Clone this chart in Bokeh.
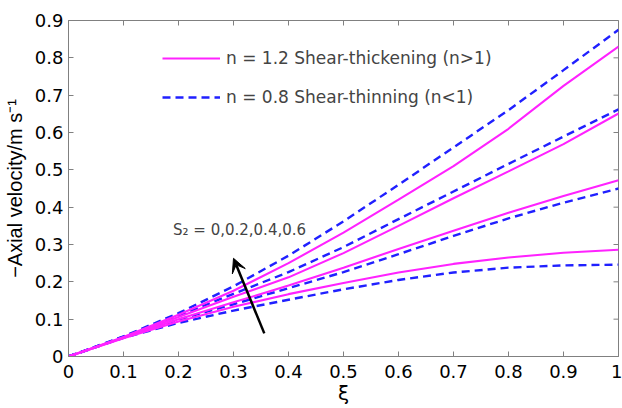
import math
from bokeh.plotting import figure
from bokeh.models import (Range1d, Legend, LegendItem, Arrow, VeeHead,
                          Label, FixedTicker)
from bokeh.embed import file_html
from bokeh.resources import INLINE

# ---- data ----
xi = [0, 0.1, 0.2, 0.3, 0.4, 0.5, 0.6, 0.7, 0.8, 0.9, 1.0]

# n = 1.2 shear-thickening, S2 = 0, 0.2, 0.4, 0.6
thick_s0 = [0, 0.049, 0.094, 0.133, 0.167, 0.197, 0.225, 0.248, 0.265, 0.278, 0.286]
thick_s2 = [0, 0.050, 0.100, 0.145, 0.190, 0.238, 0.288, 0.337, 0.385, 0.430, 0.472]
thick_s4 = [0, 0.051, 0.106, 0.160, 0.212, 0.277, 0.350, 0.424, 0.496, 0.569, 0.651]
thick_s6 = [0, 0.052, 0.112, 0.176, 0.250, 0.332, 0.420, 0.510, 0.610, 0.725, 0.830]

# n = 0.8 shear-thinning, S2 = 0, 0.2, 0.4, 0.6
thin_s0 = [0, 0.050, 0.090, 0.123, 0.152, 0.180, 0.205, 0.225, 0.238, 0.244, 0.246]
thin_s2 = [0, 0.051, 0.099, 0.140, 0.183, 0.226, 0.274, 0.323, 0.370, 0.412, 0.450]
thin_s4 = [0, 0.053, 0.109, 0.168, 0.226, 0.293, 0.368, 0.442, 0.516, 0.589, 0.662]
thin_s6 = [0, 0.054, 0.116, 0.188, 0.270, 0.362, 0.460, 0.560, 0.660, 0.767, 0.875]

x_ticks = [0, 0.1, 0.2, 0.3, 0.4, 0.5, 0.6, 0.7, 0.8, 0.9, 1]
y_ticks = [0, 0.1, 0.2, 0.3, 0.4, 0.5, 0.6, 0.7, 0.8, 0.9]

x_title = "\u03be"
y_title = "\u2212Axial velocity/m s\u207b\u00b9"
legend_thick = "n = 1.2 Shear-thickening (n>1)"
legend_thin = "n = 0.8 Shear-thinning (n<1)"
annot_text = "S\u2082 = 0,0.2,0.4,0.6"
annot_pos = (0.190, 0.338)
arrow_tail = (0.356, 0.062)
arrow_head = (0.300, 0.263)

PINK = "#ff22ff"
BLUE = "#2020ff"
FRAME = "#808080"
FONT = "DejaVu Sans"
LABEL_FONT = "Liberation Sans"

X_MIN, X_MAX = 0, 1
Y_MIN, Y_MAX = 0, 0.9

p = figure(width=622, height=408, output_backend="svg", toolbar_location=None,
           x_range=Range1d(X_MIN, X_MAX), y_range=Range1d(Y_MIN, Y_MAX),
           min_border_left=68, min_border_right=4, min_border_top=20,
           min_border_bottom=52)
p.grid.visible = False
p.outline_line_color = FRAME
p.background_fill_color = "white"

for ax, ticks in ((p.xaxis[0], x_ticks), (p.yaxis[0], y_ticks)):
    ax.ticker = FixedTicker(ticks=ticks)
    ax.axis_line_color = FRAME
    ax.major_tick_line_color = FRAME
    ax.major_tick_in = 5
    ax.major_tick_out = 0
    ax.minor_tick_line_color = None
    ax.major_label_text_font = FONT
    ax.major_label_text_font_size = "18px"
    ax.major_label_text_color = "black"
    ax.major_label_overrides = {0: "0", 1: "1"}
    ax.axis_label_text_color = "black"
    ax.axis_label_text_font_style = "normal"

p.xaxis[0].major_label_standoff = 8
p.yaxis[0].major_label_standoff = 5

p.xaxis[0].axis_label = x_title
p.xaxis[0].axis_label_text_font = FONT
p.xaxis[0].axis_label_text_font_size = "20px"
p.xaxis[0].axis_label_standoff = 0

p.yaxis[0].axis_label = y_title
p.yaxis[0].axis_label_text_font = LABEL_FONT
p.yaxis[0].axis_label_text_font_size = "20px"
p.yaxis[0].axis_label_standoff = 6

# inward ticks on the right and top edges (half of each dash is clipped by the frame)
p.scatter([X_MAX] * len(y_ticks), y_ticks, marker="dash", size=10,
          line_color=FRAME, line_width=1)
p.scatter(x_ticks, [Y_MAX] * len(x_ticks), marker="dash", size=10,
          angle=math.pi / 2, line_color=FRAME, line_width=1)

thick = [thick_s0, thick_s2, thick_s4, thick_s6]
thin = [thin_s0, thin_s2, thin_s4, thin_s6]
r_thick = None
r_thin = None
for ys in thin:
    r_thin = p.line(xi, ys, line_color=BLUE, line_width=2.4, line_dash="8 5")
for ys in thick:
    r_thick = p.line(xi, ys, line_color=PINK, line_width=2.1)

legend = Legend(items=[LegendItem(label=legend_thick, renderers=[r_thick]),
                       LegendItem(label=legend_thin, renderers=[r_thin])],
                location=(94, 249), orientation="vertical",
                border_line_color=None, background_fill_alpha=0,
                glyph_width=58, glyph_height=20, label_height=20, spacing=19,
                label_standoff=6, padding=0, margin=0,
                label_text_font=FONT, label_text_font_size="17px")
p.add_layout(legend)

p.add_layout(Label(x=annot_pos[0], y=annot_pos[1], text=annot_text,
                   text_font=FONT, text_font_size="15px",
                   text_baseline="middle", text_align="left"))

p.add_layout(Arrow(end=VeeHead(size=14, fill_color="black", line_color="black"),
                   x_start=arrow_tail[0], y_start=arrow_tail[1],
                   x_end=arrow_head[0], y_end=arrow_head[1],
                   line_color="black", line_width=2.5))

open("out.html", "w").write(file_html(p, INLINE))
